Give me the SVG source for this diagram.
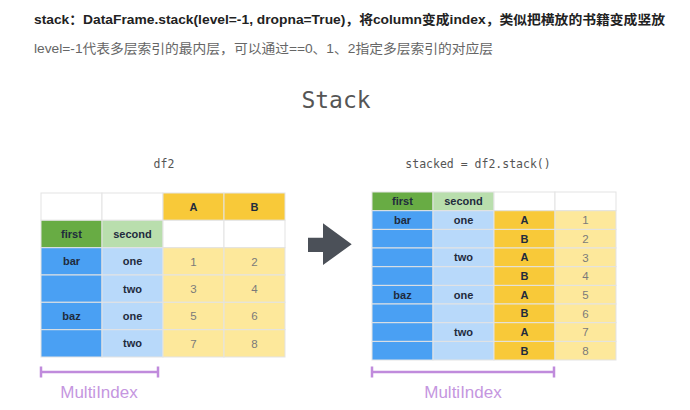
<svg xmlns="http://www.w3.org/2000/svg" width="690" height="410" viewBox="0 0 690 410">
<style>
.c{stroke:#e3e3e3;stroke-width:1}
.w{fill:#ffffff}
.dg{fill:#68ac44}
.lg{fill:#b9dead}
.bl{fill:#4aa0f3}
.lb{fill:#b8d9fa}
.go{fill:#f8c939}
.ly{fill:#fde89b}
.lab{font-family:"Liberation Sans",Arial,sans-serif;font-size:11px;font-weight:bold;fill:#1f2b3d;text-anchor:middle}
.num{font-family:"Liberation Sans",Arial,sans-serif;font-size:11.5px;fill:#7a7a7a;text-anchor:middle}
.mono{font-family:"DejaVu Sans Mono","Liberation Mono",monospace;fill:#555;text-anchor:middle}
.br{stroke:#c08bdc;stroke-width:2.5;fill:none}
.mi{font-family:"Liberation Sans",Arial,sans-serif;font-size:17px;fill:#c596e0;text-anchor:middle}
</style>
<rect width="690" height="410" fill="#ffffff"/>
<g id="header">
<text x="34" y="23.5" font-family="'Liberation Sans','Noto Sans CJK SC',sans-serif" font-size="13" font-weight="bold" fill="#222" textLength="631" lengthAdjust="spacingAndGlyphs">stack：DataFrame.stack(level=-1, dropna=True)，将column变成index，类似把横放的书籍变成竖放</text>
<text x="34" y="52.5" font-family="'Liberation Sans','Noto Sans CJK SC',sans-serif" font-size="13" fill="#666" textLength="459" lengthAdjust="spacingAndGlyphs">level=-1代表多层索引的最内层，可以通过==0、1、2指定多层索引的对应层</text>
</g>
<g id="title">
<text class="mono" x="336" y="108" font-size="23" fill="#333">Stack</text>
</g>
<g id="df2">
<text class="mono" x="164" y="168" font-size="11.5">df2</text>
<rect class="c w" x="41" y="193" width="61" height="27.3"/>
<rect class="c w" x="102" y="193" width="61" height="27.3"/>
<rect class="c go" x="163" y="193" width="61" height="27.3"/>
<rect class="c go" x="224" y="193" width="61" height="27.3"/>
<rect class="c dg" x="41" y="220.3" width="61" height="27.4"/>
<rect class="c lg" x="102" y="220.3" width="61" height="27.4"/>
<rect class="c w" x="163" y="220.3" width="61" height="27.4"/>
<rect class="c w" x="224" y="220.3" width="61" height="27.4"/>
<rect class="c bl" x="41" y="247.7" width="61" height="27.3"/>
<rect class="c lb" x="102" y="247.7" width="61" height="27.3"/>
<rect class="c ly" x="163" y="247.7" width="61" height="27.3"/>
<rect class="c ly" x="224" y="247.7" width="61" height="27.3"/>
<rect class="c bl" x="41" y="275" width="61" height="27.3"/>
<rect class="c lb" x="102" y="275" width="61" height="27.3"/>
<rect class="c ly" x="163" y="275" width="61" height="27.3"/>
<rect class="c ly" x="224" y="275" width="61" height="27.3"/>
<rect class="c bl" x="41" y="302.3" width="61" height="27.4"/>
<rect class="c lb" x="102" y="302.3" width="61" height="27.4"/>
<rect class="c ly" x="163" y="302.3" width="61" height="27.4"/>
<rect class="c ly" x="224" y="302.3" width="61" height="27.4"/>
<rect class="c bl" x="41" y="329.7" width="61" height="27.3"/>
<rect class="c lb" x="102" y="329.7" width="61" height="27.3"/>
<rect class="c ly" x="163" y="329.7" width="61" height="27.3"/>
<rect class="c ly" x="224" y="329.7" width="61" height="27.3"/>
<text class="lab" x="193.5" y="210.7">A</text>
<text class="lab" x="254.5" y="210.7">B</text>
<text class="lab" x="71.5" y="238">first</text>
<text class="lab" x="132.5" y="238">second</text>
<text class="lab" x="71.5" y="265.3">bar</text>
<text class="lab" x="132.5" y="265.3">one</text>
<text class="lab" x="132.5" y="292.7">two</text>
<text class="lab" x="71.5" y="320">baz</text>
<text class="lab" x="132.5" y="320">one</text>
<text class="lab" x="132.5" y="347.3">two</text>
<text class="num" x="193.5" y="265.5">1</text>
<text class="num" x="254.5" y="265.5">2</text>
<text class="num" x="193.5" y="292.9">3</text>
<text class="num" x="254.5" y="292.9">4</text>
<text class="num" x="193.5" y="320.2">5</text>
<text class="num" x="254.5" y="320.2">6</text>
<text class="num" x="193.5" y="347.5">7</text>
<text class="num" x="254.5" y="347.5">8</text>
</g>
<g id="multiindex-left">
<path class="br" d="M41,372 H158 M41,366.5 V377.5 M158,366.5 V377.5"/>
<text class="mi" x="99" y="398">MultiIndex</text>
</g>
<g id="stacked">
<text class="mono" x="478" y="168" font-size="11.5">stacked = df2.stack()</text>
<rect class="c dg" x="372" y="192" width="61" height="18.7"/>
<rect class="c lg" x="433" y="192" width="61" height="18.7"/>
<rect class="c w" x="494" y="192" width="61" height="18.7"/>
<rect class="c w" x="555" y="192" width="61" height="18.7"/>
<rect class="c bl" x="372" y="210.7" width="61" height="18.7"/>
<rect class="c lb" x="433" y="210.7" width="61" height="18.7"/>
<rect class="c go" x="494" y="210.7" width="61" height="18.7"/>
<rect class="c ly" x="555" y="210.7" width="61" height="18.7"/>
<rect class="c bl" x="372" y="229.4" width="61" height="18.6"/>
<rect class="c lb" x="433" y="229.4" width="61" height="18.6"/>
<rect class="c go" x="494" y="229.4" width="61" height="18.6"/>
<rect class="c ly" x="555" y="229.4" width="61" height="18.6"/>
<rect class="c bl" x="372" y="248" width="61" height="18.7"/>
<rect class="c lb" x="433" y="248" width="61" height="18.7"/>
<rect class="c go" x="494" y="248" width="61" height="18.7"/>
<rect class="c ly" x="555" y="248" width="61" height="18.7"/>
<rect class="c bl" x="372" y="266.7" width="61" height="18.7"/>
<rect class="c lb" x="433" y="266.7" width="61" height="18.7"/>
<rect class="c go" x="494" y="266.7" width="61" height="18.7"/>
<rect class="c ly" x="555" y="266.7" width="61" height="18.7"/>
<rect class="c bl" x="372" y="285.4" width="61" height="18.6"/>
<rect class="c lb" x="433" y="285.4" width="61" height="18.6"/>
<rect class="c go" x="494" y="285.4" width="61" height="18.6"/>
<rect class="c ly" x="555" y="285.4" width="61" height="18.6"/>
<rect class="c bl" x="372" y="304" width="61" height="18.7"/>
<rect class="c lb" x="433" y="304" width="61" height="18.7"/>
<rect class="c go" x="494" y="304" width="61" height="18.7"/>
<rect class="c ly" x="555" y="304" width="61" height="18.7"/>
<rect class="c bl" x="372" y="322.7" width="61" height="18.7"/>
<rect class="c lb" x="433" y="322.7" width="61" height="18.7"/>
<rect class="c go" x="494" y="322.7" width="61" height="18.7"/>
<rect class="c ly" x="555" y="322.7" width="61" height="18.7"/>
<rect class="c bl" x="372" y="341.4" width="61" height="18.6"/>
<rect class="c lb" x="433" y="341.4" width="61" height="18.6"/>
<rect class="c go" x="494" y="341.4" width="61" height="18.6"/>
<rect class="c ly" x="555" y="341.4" width="61" height="18.6"/>
<text class="lab" x="402.5" y="205.3">first</text>
<text class="lab" x="463.5" y="205.3">second</text>
<text class="lab" x="402.5" y="224">bar</text>
<text class="lab" x="463.5" y="224">one</text>
<text class="lab" x="463.5" y="261.3">two</text>
<text class="lab" x="402.5" y="298.7">baz</text>
<text class="lab" x="463.5" y="298.7">one</text>
<text class="lab" x="463.5" y="336">two</text>
<text class="lab" x="524.5" y="224">A</text>
<text class="lab" x="524.5" y="242.7">B</text>
<text class="lab" x="524.5" y="261.3">A</text>
<text class="lab" x="524.5" y="280">B</text>
<text class="lab" x="524.5" y="298.7">A</text>
<text class="lab" x="524.5" y="317.3">B</text>
<text class="lab" x="524.5" y="336">A</text>
<text class="lab" x="524.5" y="354.7">B</text>
<text class="num" x="585.5" y="224.2">1</text>
<text class="num" x="585.5" y="242.9">2</text>
<text class="num" x="585.5" y="261.5">3</text>
<text class="num" x="585.5" y="280.2">4</text>
<text class="num" x="585.5" y="298.9">5</text>
<text class="num" x="585.5" y="317.5">6</text>
<text class="num" x="585.5" y="336.2">7</text>
<text class="num" x="585.5" y="354.9">8</text>
</g>
<g id="multiindex-right">
<path class="br" d="M372,372 H554 M372,366.5 V377.5 M554,366.5 V377.5"/>
<text class="mi" x="463" y="398">MultiIndex</text>
</g>
<g id="connectors">
<path d="M308,237.7 H323 V223.3 L351.7,244.3 L323,265 V252 H308 Z" fill="#4b5058"/>
</g>
</svg>
